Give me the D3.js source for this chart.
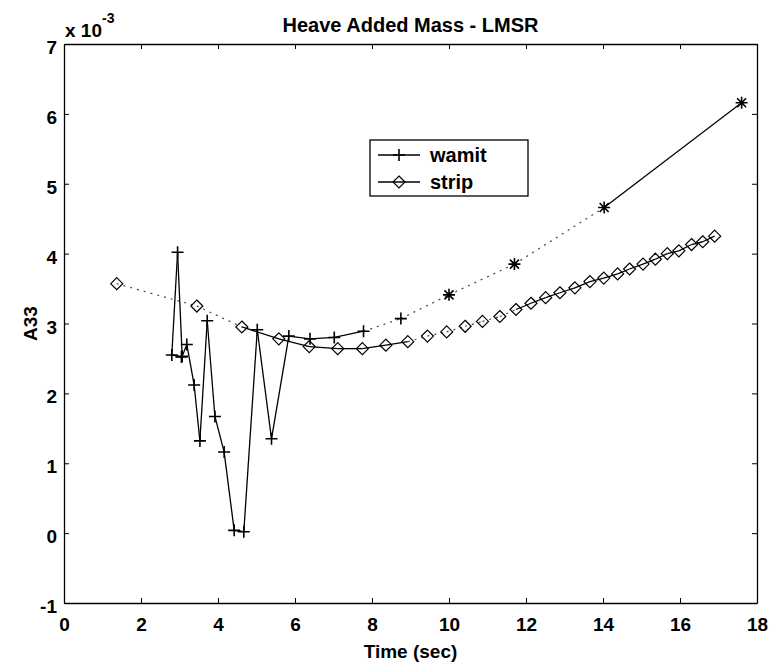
<!DOCTYPE html>
<html>
<head>
<meta charset="utf-8">
<script src="https://cdn.jsdelivr.net/npm/d3@7"></script>
<style>
  body { margin: 0; background: #fff; }
  text { font-family: "Liberation Sans", Arial, sans-serif; font-weight: bold; fill: #000; }
</style>
</head>
<body>
<div id="chart"></div>
<script>
// A33 values are in units of 1e-3
var wamitTime = [3.05, 2.80, 2.95, 3.07, 3.19, 3.38, 3.53, 3.72, 3.92, 4.16, 4.42, 4.67, 5.02, 5.39, 5.84, 6.39, 7.02, 7.78, 8.75, 10.0, 11.70, 14.03, 17.6]
var wamitA33 = [2.52, 2.55, 4.02, 2.53, 2.70, 2.12, 1.32, 3.04, 1.67, 1.16, 0.04, 0.02, 2.91, 1.35, 2.82, 2.78, 2.80, 2.89, 3.07, 3.41, 3.85, 4.66, 6.16]

var stripTime = [1.37, 3.45, 4.62, 5.58, 6.37, 7.11, 7.75, 8.36, 8.93, 9.44, 9.94, 10.42, 10.87, 11.32, 11.74, 12.13, 12.51, 12.88, 13.27, 13.66, 14.02, 14.38, 14.69, 15.04, 15.36, 15.67, 15.97, 16.30, 16.59, 16.90]
var stripA33 = [3.57, 3.25, 2.95, 2.78, 2.67, 2.64, 2.64, 2.69, 2.74, 2.82, 2.88, 2.96, 3.03, 3.10, 3.20, 3.29, 3.37, 3.44, 3.51, 3.60, 3.65, 3.71, 3.78, 3.85, 3.92, 4.00, 4.04, 4.13, 4.17, 4.25]

var xTicks = [0, 2, 4, 6, 8, 10, 12, 14, 16, 18]
var yTicks = [-1, 0, 1, 2, 3, 4, 5, 6, 7]
var seriesNames = ["wamit", "strip"]

var W = 770, H = 669
var margin = { top: 44, right: 13, bottom: 66, left: 64 }
var width = W - margin.left - margin.right,
    height = H - margin.top - margin.bottom

var svg = d3.select("#chart").append("svg")
    .attr("width", W)
    .attr("height", H)

var x = d3.scaleLinear().domain([0, 18]).range([margin.left, margin.left + width])
var y = d3.scaleLinear().domain([-1, 7]).range([margin.top + height, margin.top])

// plain hyphen for negatives, like the original
var fmt = function (d) { return String(d) }

// axes, ticks pointing inward on all four sides
svg.append("g")
    .attr("transform", "translate(0," + (margin.top + height) + ")")
    .call(d3.axisBottom(x).tickValues(xTicks).tickFormat(fmt).tickSize(-5).tickPadding(15).tickSizeOuter(0))
svg.append("g")
    .attr("transform", "translate(0," + margin.top + ")")
    .call(d3.axisTop(x).tickValues(xTicks).tickSize(-5).tickFormat("").tickSizeOuter(0))
var yAxisG = svg.append("g")
    .attr("transform", "translate(" + margin.left + ",0)")
    .call(d3.axisLeft(y).tickValues(yTicks).tickFormat(fmt).tickSize(-5).tickPadding(7).tickSizeOuter(0))
svg.append("g")
    .attr("transform", "translate(" + (margin.left + width) + ",0)")
    .call(d3.axisRight(y).tickValues(yTicks).tickSize(-5).tickFormat("").tickSizeOuter(0))

svg.selectAll(".domain").attr("stroke", "#000").attr("stroke-width", 1.3)
svg.selectAll(".tick line").attr("stroke", "#000").attr("stroke-width", 1)
svg.selectAll(".tick text").style("font-size", "19px").attr("fill", "#000")
yAxisG.selectAll(".tick text").attr("dy", "0.5em")

// labels
svg.append("text")
    .attr("x", margin.left + width / 2).attr("y", 32)
    .attr("text-anchor", "middle").style("font-size", "20px")
    .text("Heave Added Mass - LMSR")

var ex = svg.append("text").attr("x", 65).attr("y", 37).style("font-size", "19px")
ex.append("tspan").text("x 10")
ex.append("tspan").attr("dy", -14).style("font-size", "14px").text("-3")

svg.append("text")
    .attr("x", margin.left + width / 2).attr("y", 658)
    .attr("text-anchor", "middle").style("font-size", "19px")
    .text("Time (sec)")

svg.append("text")
    .attr("transform", "translate(37," + y(3) + ") rotate(-90)")
    .attr("text-anchor", "middle").style("font-size", "19px")
    .text("A33")

// build point lists
var wamit = wamitTime.map(function (t, i) { return { t: t, a: wamitA33[i] } })
var strip = stripTime.map(function (t, i) { return { t: t, a: stripA33[i] } })

// parts of the curves that look faint/dotted in the scan
function faded(name, d0, d1) {
    if (name === "wamit") return d0.t >= 7.78 && d1.t <= 14.03 && d0.t < d1.t
    return (d0.t >= 1.37 && d1.t <= 4.62) || (d0.t >= 8.93 && d1.t <= 11.74)
}

function drawSeries(name, data) {
    var g = svg.append("g")
    for (var i = 0; i < data.length - 1; i++) {
        var f = faded(name, data[i], data[i + 1])
        g.append("line")
            .attr("x1", x(data[i].t)).attr("y1", y(data[i].a))
            .attr("x2", x(data[i + 1].t)).attr("y2", y(data[i + 1].a))
            .attr("stroke", f ? "#444" : "#000")
            .attr("stroke-width", f ? 1.2 : 1.3)
            .attr("stroke-dasharray", f ? "2,5" : null)
    }
}

var plusPath = "M-6,0H6M0,-6V6"
var starPath = "M-6,0H6M0,-6V6M-4.5,-4.5L4.5,4.5M-4.5,4.5L4.5,-4.5"
var diamondPath = "M0,-6L6,0L0,6L-6,0Z"

drawSeries("wamit", wamit)
drawSeries("strip", strip)

svg.append("g").selectAll("path")
    .data(wamit).join("path")
    .attr("transform", function (d) { return "translate(" + x(d.t) + "," + y(d.a) + ")" })
    .attr("d", function (d) { return d.t >= 10 ? starPath : plusPath })
    .attr("fill", "none").attr("stroke", "#000").attr("stroke-width", 1.6)

svg.append("g").selectAll("path")
    .data(strip).join("path")
    .attr("transform", function (d) { return "translate(" + x(d.t) + "," + y(d.a) + ")" })
    .attr("d", diamondPath)
    .attr("fill", "none").attr("stroke", "#000").attr("stroke-width", 1.2)

// legend
var lg = svg.append("g").attr("transform", "translate(370,140)")
lg.append("rect").attr("width", 158).attr("height", 56)
    .attr("fill", "#fff").attr("stroke", "#000").attr("stroke-width", 1.3)
seriesNames.forEach(function (name, i) {
    var yy = 15 + i * 27
    lg.append("line").attr("x1", 8).attr("x2", 50).attr("y1", yy).attr("y2", yy)
        .attr("stroke", "#000").attr("stroke-width", 1.3)
    lg.append("path").attr("transform", "translate(29," + yy + ")")
        .attr("d", i === 0 ? plusPath : diamondPath)
        .attr("fill", "none").attr("stroke", "#000").attr("stroke-width", i === 0 ? 1.6 : 1.2)
    lg.append("text").attr("x", 60).attr("y", yy + 7).style("font-size", "20px").text(name)
})
</script>
</body>
</html>
